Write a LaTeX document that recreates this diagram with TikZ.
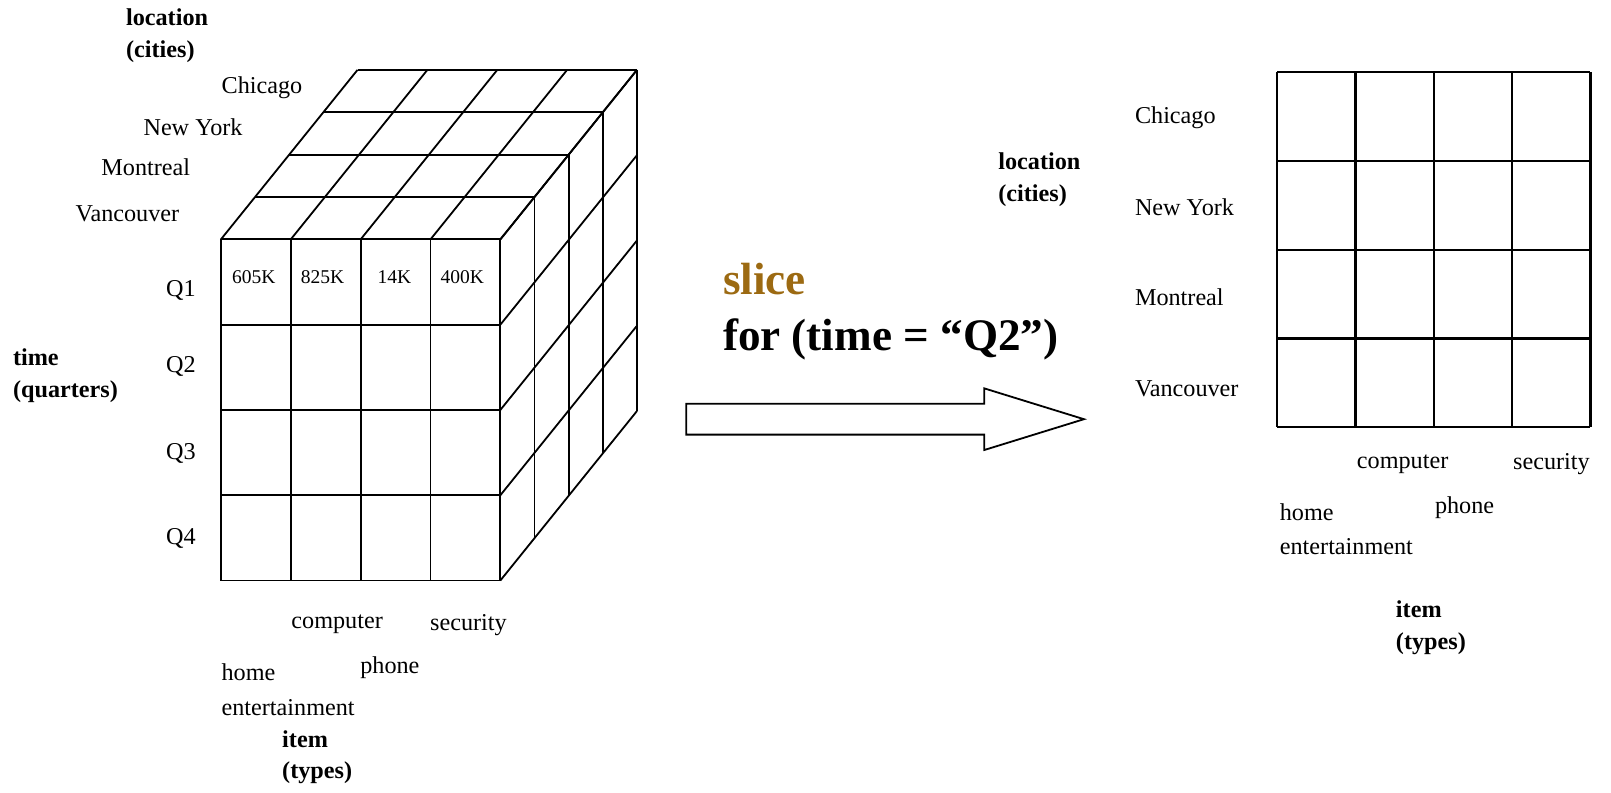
\documentclass[tikz,border=0pt]{standalone}
\usepackage{fontspec}
\setmainfont{Liberation Serif}
\usepackage{tikz}
\usetikzlibrary{positioning}
\definecolor{slicebrown}{HTML}{9C6A12}
\tikzset{lbl/.style={anchor=west,inner sep=0pt,font=\fontsize{6.7}{9.6}\selectfont,align=left},
axis/.style={anchor=west,inner sep=0pt,font=\fontsize{6.7}{8.8}\selectfont\bfseries,align=left},
val/.style={inner sep=0pt,font=\fontsize{5.4}{6}\selectfont},
grid/.style={draw=black,line width=.5pt}}
\begin{document}
\begin{tikzpicture}[x=1cm,y=1cm]
\useasboundingbox (0,0) rectangle (15.68,-7.71);
\foreach \i in {0,...,4}{
  \draw[grid] (2.15+.68*\i,-2.33)--++(0,-3.32);
  \draw[grid] (2.15,-2.33-.83*\i)--++(2.72,0);
  \draw[grid] (2.15+.68*\i,-2.33)--++(1.33,1.65);
  \draw[grid] (4.87,-2.33-.83*\i)--++(1.33,1.65);
  \draw[grid] (2.15+.3325*\i,-2.33+.4125*\i)--++(2.72,0);
  \draw[grid] (4.87+.3325*\i,-2.33+.4125*\i)--++(0,-3.32);
}
\node[axis] (loc1) at (1.22,-.35) {location\\(cities)};
\node[lbl] (ch1) at (2.15,-.85) {Chicago};
\node[lbl] (ny1) at (1.39,-1.24) {New York};
\node[lbl] (mo1) at (.98,-1.63) {Montreal};
\node[lbl] (va1) at (.73,-2.08) {Vancouver};
\node[axis] (time) at (.12,-3.66) {time\\(quarters)};
\foreach \q/\y in {1/2.83,2/3.57,3/4.41,4/5.24}{
  \node[lbl,anchor=center] (q\q) at (1.76,-\y) {Q\q};
}
\foreach \v/\x [count=\k] in {605K/2.47,825K/3.14,14K/3.84,400K/4.50}{
  \node[val] (v\k) at (\x,-2.70) {\v};
}
\node[lbl] (co1) at (2.83,-6.08) {computer};
\node[lbl] (se1) at (4.18,-6.08) {security};
\node[lbl] (ho1) at (2.15,-6.71) {home\\entertainment};
\node[lbl] (ph1) at (3.50,-6.50) {phone};
\node[axis] (it1) at (2.74,-7.37) {item\\(types)};
\node[anchor=west,inner sep=0pt,font=\fontsize{12.5}{14}\selectfont\bfseries,text=slicebrown] (slice) at (7.03,-2.72) {slice};
\node[anchor=west,inner sep=0pt,font=\fontsize{12.5}{14}\selectfont\bfseries] (cond) at (7.03,-3.30) {for (time = “Q2”)};
\draw[line width=.5pt] (6.68,-3.93)--(9.58,-3.93)--(9.58,-3.78)--(10.55,-4.08)--(9.58,-4.38)--(9.58,-4.23)--(6.68,-4.23)--cycle;
\foreach \i in {0,...,4}{
  \draw[grid,line width=.6pt] (12.43+.7625*\i,-.70)--++(0,-3.46);
  \draw[grid,line width=.6pt] (12.43,-.70-.865*\i)--++(3.05,0);
}
\node[axis] (loc2) at (9.71,-1.75) {location\\(cities)};
\node[lbl] (ch2) at (11.04,-1.15) {Chicago};
\node[lbl] (ny2) at (11.04,-2.02) {New York};
\node[lbl] (mo2) at (11.04,-2.89) {Montreal};
\node[lbl] (va2) at (11.04,-3.78) {Vancouver};
\node[lbl] (co2) at (13.20,-4.52) {computer};
\node[lbl] (se2) at (14.72,-4.52) {security};
\node[lbl] (ho2) at (12.45,-5.15) {home\\entertainment};
\node[lbl] (ph2) at (13.96,-4.94) {phone};
\node[axis] (it2) at (13.58,-6.11) {item\\(types)};
\end{tikzpicture}
\end{document}
